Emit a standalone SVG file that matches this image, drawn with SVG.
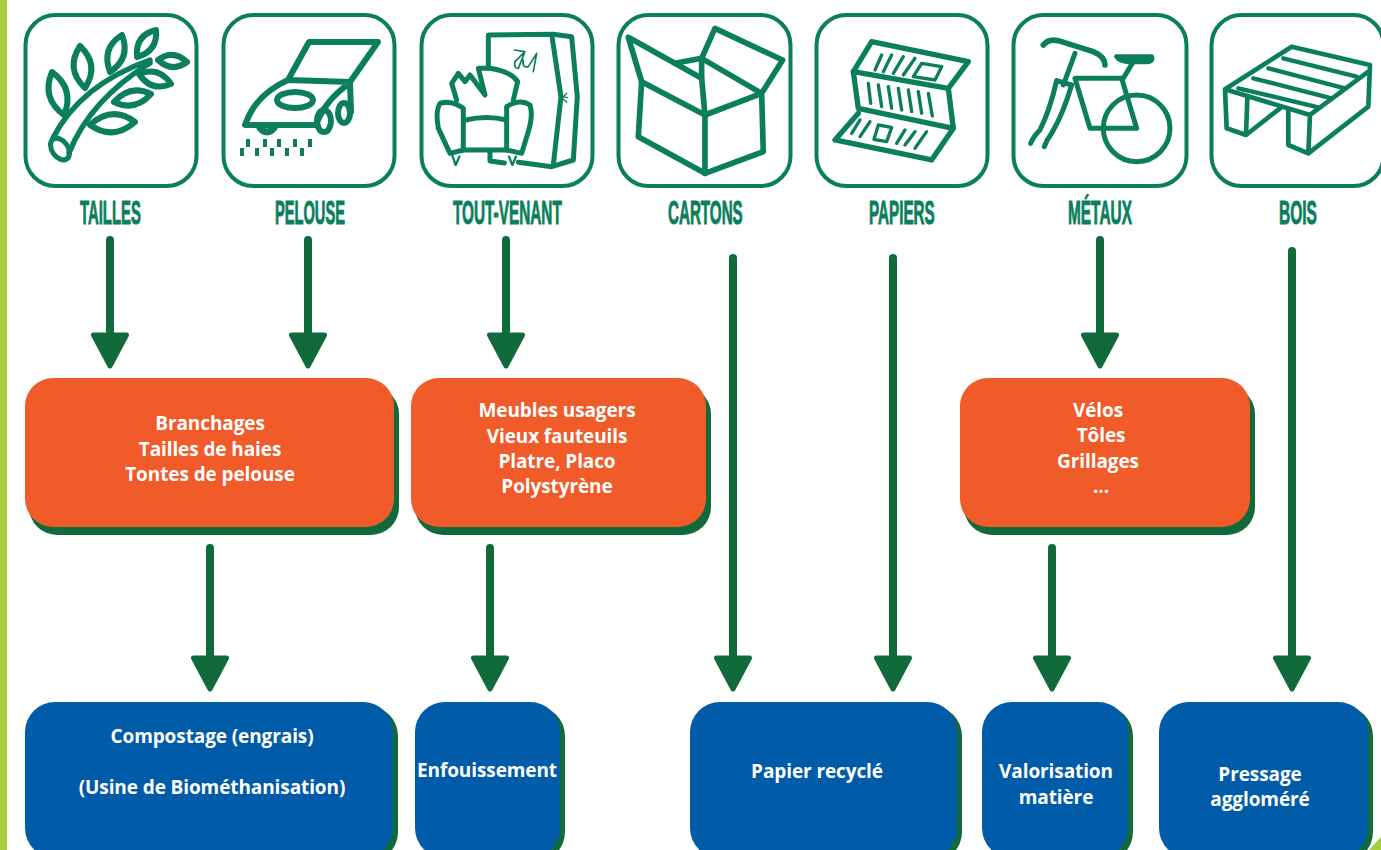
<svg xmlns="http://www.w3.org/2000/svg" width="1381" height="850" viewBox="0 0 1381 850">
<style>
.frame{fill:#fff;stroke:#0b7f5d;stroke-width:4}
.ic{fill:none;stroke:#0b7f5d;stroke-linejoin:round;stroke-linecap:round}
.lab{font-family:"Liberation Sans",Arial,sans-serif;font-weight:700;font-size:33px;fill:#0b7f5d;stroke:#0b7f5d;stroke-width:1;text-anchor:start}
.sh{fill:#116a3a}
.o{fill:#f15a29}
.b{fill:#005ca8}
.tx{font-family:"Open Sans","Liberation Sans",sans-serif;font-weight:700;font-size:19px;letter-spacing:-.1px;fill:#fff;text-anchor:middle}
.ar{stroke:#116a3a;stroke-width:8;stroke-linecap:round;fill:none;marker-end:url(#head)}
</style>
<defs>
<marker id="head" markerUnits="userSpaceOnUse" markerWidth="40" markerHeight="42" refX="3" refY="21" orient="auto" viewBox="0 0 40 42">
<path d="M3,4.500 L34,21 L3,37.500 Z" fill="#116a3a" stroke="#116a3a" stroke-width="5" stroke-linejoin="round"/>
</marker>
</defs>
<rect width="1381" height="850" fill="#fff"/>
<rect x="0" y="0" width="7" height="850" fill="#a4cf3a"/>
<path d="M1381,837 L1381,850 L1369,850 Z" fill="#a4cf3a"/>

<g id="connectors">
<path class="ar" d="M110,240 V335"/>
<path class="ar" d="M308,240 V335"/>
<path class="ar" d="M506,240 V335"/>
<path class="ar" d="M733,258 V658"/>
<path class="ar" d="M893,258 V658"/>
<path class="ar" d="M1100,240 V335"/>
<path class="ar" d="M1292,251 V658"/>
<path class="ar" d="M210,548 V658"/>
<path class="ar" d="M490,548 V658"/>
<path class="ar" d="M1052,548 V658"/>
</g>

<g id="taille">
<rect class="frame" x="25.500" y="15" width="171" height="171" rx="30"/>
<g class="ic">
<path d="M52,72 Q75,89 64,115 Q41,98 52,72Z M80,46 Q100,65 85,88 Q65,69 80,46Z M122,35 Q131,58 110,72 Q101,48 122,35Z M156,30 Q158,51 137,57 Q135,35 156,30Z M158,60 Q173,49 187,62 Q172,73 158,60Z M139,74 Q159,66 171,84 Q151,92 139,74Z M114,102 Q135,112 151,94 Q130,84 114,102Z M90,125 Q113,141 135,122 Q112,105 90,125Z" stroke-width="6"/>
<path d="M53,138 Q80,85 150,60 M69,153 Q90,100 150,63" stroke-width="5.500"/>
<ellipse cx="60" cy="149" rx="8" ry="12" transform="rotate(-35 60 149)" stroke-width="5"/>
</g>
<text class="lab" transform="translate(80 224) scale(.451 1)">TAILLES</text>
</g>

<g id="pelouse">
<rect class="frame" x="223.500" y="15" width="171" height="171" rx="30"/>
<g class="ic" stroke-width="6">
<path d="M288,80 L309,42 L378,42 L350,82 L288,80 Q255,95 245,125 L316,125 Q325,100 350,83 L351,112"/>
<ellipse cx="295" cy="100" rx="18" ry="8"/>
<ellipse cx="324" cy="121" rx="7" ry="11"/>
<ellipse cx="344" cy="113" rx="6" ry="10"/>
<path d="M260,128 Q267,136 274,128" stroke-width="7"/>
<path d="M242,148V156M248,139V147M257,148V156M265,139V147M272,148V156M279,139V147M287,148V156M295,139V147M302,148V156M310,139V147" stroke-width="4" stroke-linecap="butt"/>
</g>
<text class="lab" transform="translate(275 224) scale(.444 1)">PELOUSE</text>
</g>

<g id="tout-venant">
<rect class="frame" x="421.500" y="15" width="171" height="171" rx="30"/>
<g class="ic" transform="translate(425 25) scale(.3333)" stroke-width="15">
<path d="M190,130 L190,30 L385,28 L440,35 L457,215 L445,405 L380,425 L280,412"/>
<path d="M382,40 L408,215 L385,420"/>
<path d="M268,75 L300,80 L270,110 Q265,130 280,130 L298,85 M295,105 Q290,130 310,125 L335,85 L325,140" stroke-width="5"/>
<path d="M415,215 L425,205 M412,215 L428,218 M415,222 L425,232" stroke-width="4"/>
<path d="M95,225 L80,175 L100,145 L120,170 L135,150 L180,210 L160,130 L195,130 Q260,140 278,170 L265,225"/>
<path d="M115,250 Q80,225 45,235 Q30,260 40,310 L75,385 L115,375 Z"/>
<path d="M245,245 Q285,220 315,240 Q325,270 310,320 L290,385 L245,375 Z"/>
<path d="M122,285 Q185,270 245,285 M115,375 L245,375"/>
<path d="M82,392 L92,420 L103,395 M252,395 L262,420 L273,395" stroke-width="7"/>
<path d="M195,380 L195,408 L238,414"/>
</g>
<text class="lab" transform="translate(453 224) scale(.465 1)">TOUT-VENANT</text>
</g>

<g id="cartons">
<rect class="frame" x="618.500" y="15" width="172" height="171" rx="30"/>
<g class="ic" transform="translate(410 0) scale(.3333)" stroke-width="17" stroke-linecap="butt">
<path d="M655,112 L875,235 L885,345 L1055,280 L875,175 L915,85 L1118,180 L1055,280 L1060,455 L885,520 L685,410 L695,245 L655,112 Z"/>
<path d="M695,245 L885,345 L885,520 M795,190 L875,175 L875,235"/>
</g>
<text class="lab" transform="translate(668 224) scale(.46 1)">CARTONS</text>
</g>

<g id="papiers">
<rect class="frame" x="816.500" y="15" width="171" height="171" rx="30"/>
<g class="ic" transform="translate(800 0) scale(.3333)" stroke-width="16" stroke-linecap="butt">
<path d="M215,125 L505,185 L445,265 L160,215 Z"/>
<path d="M160,215 L175,325 L460,385 L445,265"/>
<path d="M175,340 L105,420 L395,480 L460,385"/>
<path stroke-width="10" d="M225,210L245,165M250,215L275,165M280,220L310,170M310,225L345,175M205,250L212,310M235,255L245,320M265,260L275,325M295,265L305,330M325,270L335,335M355,275L365,340M385,280L397,348M155,400L180,360M180,410L210,365M290,430L315,390M315,435L345,395M345,445L380,395"/>
<path stroke-width="10" d="M365,190L425,200L405,240L340,230Z M235,375L275,382L260,425L222,418Z"/>
</g>
<text class="lab" transform="translate(869 224) scale(.462 1)">PAPIERS</text>
</g>

<g id="metaux">
<rect class="frame" x="1013.500" y="15" width="173" height="171" rx="30"/>
<g class="ic" transform="translate(800 0) scale(.3333)" stroke-width="15">
<circle cx="1010" cy="385" r="100"/>
<path d="M825,235 L965,235 L1010,385 L870,385 Z M1000,185 L970,235"/>
<path d="M730,135 Q745,115 775,122 L880,155 Q915,170 915,195" stroke-width="17"/>
<path d="M825,160 L790,255"/>
<path d="M950,170 L1055,170 Q1060,185 1040,185 L990,185 Q960,185 950,170Z" fill="#0b7f5d"/>
<path d="M770,242 L815,255 M770,242 Q750,330 720,390 Q700,410 692,430 M815,255 Q790,340 755,400 Q740,420 733,440"/>
</g>
<text class="lab" transform="translate(1068 224) scale(.467 1)">MÉTAUX</text>
</g>

<g id="bois">
<rect class="frame" x="1211.500" y="15" width="172" height="171" rx="30"/>
<g class="ic" transform="translate(1190 0) scale(.3333)" stroke-width="14" stroke-linecap="butt">
<path d="M105,268 L305,140 L540,195 L535,320 L355,460 L295,435 L295,325 M105,268 L110,385 L168,405 L270,325 M105,268 L360,345 L535,215 M360,345 L355,460 M172,295 L168,405"/>
<path d="M280,175 L500,230 M235,205 L465,265 M190,235 L425,295 M145,265 L385,322" stroke-width="13"/>
</g>
<text class="lab" transform="translate(1279 224) scale(.471 1)">BOIS</text>
</g>

<g id="o1">
<rect class="sh" x="29" y="386" width="370" height="149" rx="28"/>
<rect class="o" x="25" y="378" width="369" height="149" rx="28"/>
<text class="tx" x="210" y="430">Branchages</text>
<text class="tx" x="210" y="456">Tailles de haies</text>
<text class="tx" x="210" y="481">Tontes de pelouse</text>
</g>
<g id="o2">
<rect class="sh" x="415" y="386" width="296" height="149" rx="28"/>
<rect class="o" x="411" y="378" width="295" height="149" rx="28"/>
<text class="tx" x="557" y="417">Meubles usagers</text>
<text class="tx" x="557" y="443">Vieux fauteuils</text>
<text class="tx" x="557" y="468">Platre, Placo</text>
<text class="tx" x="557" y="493">Polystyrène</text>
</g>
<g id="o3">
<rect class="sh" x="964" y="386" width="291" height="149" rx="28"/>
<rect class="o" x="960" y="378" width="290" height="149" rx="28"/>
<text class="tx" x="1098" y="417">Vélos</text>
<text class="tx" x="1101" y="442">Tôles</text>
<text class="tx" x="1098" y="468">Grillages</text>
<text class="tx" x="1101" y="493">...</text>
</g>

<g id="b1">
<rect class="sh" x="30" y="706" width="368" height="156" rx="30"/>
<rect class="b" x="25" y="702" width="368" height="156" rx="30"/>
<text class="tx" x="212" y="743">Compostage (engrais)</text>
<text class="tx" x="212" y="794">(Usine de Biométhanisation)</text>
</g>
<g id="b2">
<rect class="sh" x="420" y="706" width="145" height="156" rx="30"/>
<rect class="b" x="415" y="702" width="145" height="156" rx="30"/>
<text class="tx" x="487" y="777">Enfouissement</text>
</g>
<g id="b3">
<rect class="sh" x="695" y="706" width="267" height="156" rx="30"/>
<rect class="b" x="690" y="702" width="267" height="156" rx="30"/>
<text class="tx" x="817" y="778">Papier recyclé</text>
</g>
<g id="b4">
<rect class="sh" x="987" y="706" width="146" height="156" rx="30"/>
<rect class="b" x="982" y="702" width="146" height="156" rx="30"/>
<text class="tx" x="1056" y="778">Valorisation</text>
<text class="tx" x="1056" y="804">matière</text>
</g>
<g id="b5">
<rect class="sh" x="1164" y="706" width="209" height="156" rx="30"/>
<rect class="b" x="1159" y="702" width="209" height="156" rx="30"/>
<text class="tx" x="1260" y="781">Pressage</text>
<text class="tx" x="1260" y="806">aggloméré</text>
</g>
</svg>
